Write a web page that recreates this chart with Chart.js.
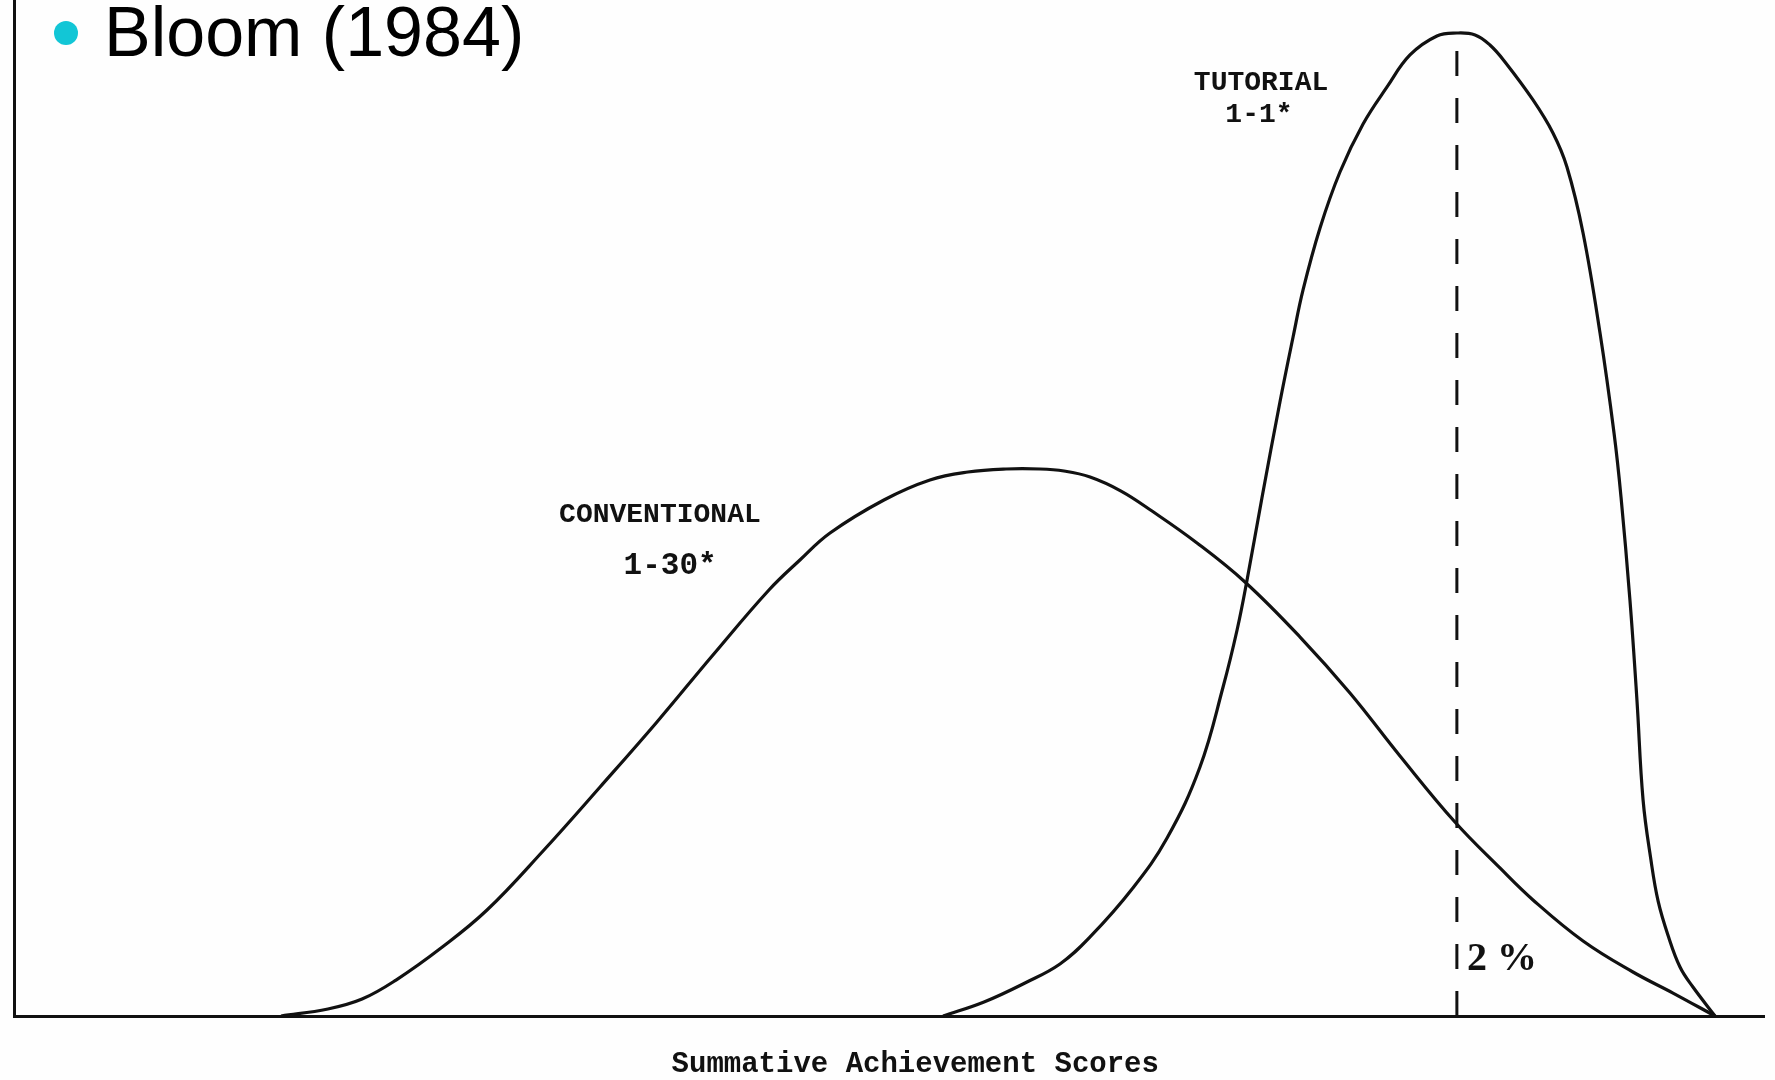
<!DOCTYPE html>
<html>
<head>
<meta charset="utf-8">
<script src="https://cdn.jsdelivr.net/npm/chart.js@4/dist/chart.umd.min.js"></script>
<style>
  html, body { margin: 0; padding: 0; background: #fefefe; }
  #wrap { position: relative; width: 1775px; height: 1080px; }
  canvas { display: block; }
</style>
</head>
<body>
<div id="wrap"><canvas id="c" width="1775" height="1080"></canvas></div>
<script>
// ---- data (x: score scale 0-100, y: relative frequency 0-100) ----
const conventionalX = [15.26, 17.94, 19.89, 21.83, 24.40, 27.03, 30.23, 33.49, 36.74, 39.94, 43.14, 44.91, 46.63, 49.71, 52.34, 54.51, 56.69, 58.63, 60.00, 61.49, 63.26, 65.03, 67.60, 70.34, 73.49, 76.34, 79.20, 82.34, 84.91, 86.80, 89.66, 92.51, 94.80, 97.20];
const conventionalY = [0.0, 0.69, 1.67, 3.54, 6.69, 10.43, 16.24, 22.54, 28.94, 35.53, 41.93, 44.88, 47.54, 50.79, 52.76, 53.54, 53.84, 53.84, 53.64, 53.05, 51.67, 49.70, 46.56, 42.72, 37.30, 31.79, 25.59, 19.09, 14.57, 11.42, 7.38, 4.33, 2.26, 0.0];

const tutorialX = [53.09, 55.43, 57.77, 59.77, 61.49, 63.89, 65.89, 67.77, 69.09, 69.89, 70.46, 71.31, 72.34, 73.09, 73.66, 74.63, 75.77, 77.09, 78.46, 79.77, 81.31, 82.45, 83.49, 84.34, 85.20, 86.80, 87.94, 88.74, 89.66, 90.63, 91.43, 91.83, 92.34, 92.74, 93.09, 93.54, 93.95, 94.51, 95.20, 95.94, 97.20];
const tutorialY = [0.0, 1.38, 3.25, 5.12, 7.78, 12.50, 17.52, 24.51, 32.38, 37.99, 42.91, 50.98, 60.43, 66.83, 71.46, 77.56, 83.07, 87.80, 91.44, 94.59, 96.46, 96.75, 96.56, 95.57, 93.90, 90.16, 86.91, 83.56, 77.07, 67.22, 57.38, 51.08, 40.94, 31.10, 21.26, 15.35, 11.30, 7.97, 4.82, 2.85, 0.0];

const cutoffX = [82.45, 82.45];
const cutoffY = [0, 96.75];

const seriesNames = ['CONVENTIONAL', 'TUTORIAL', 'Cutoff'];
const xAxisTitle = 'Summative Achievement Scores';
const heading = 'Bloom (1984)';

// annotation labels anchored to data coordinates
const labelTexts = ['TUTORIAL', '1-1*', 'CONVENTIONAL', '1-30*', '2 %'];
const labelX = [71.26, 71.14, 36.91, 37.49, 85.03];
const labelY = [91.83, 88.68, 49.31, 44.29, 5.51];

function pts(xs, ys) { return xs.map((x, i) => ({ x: x, y: ys[i] })); }

const labelPlugin = {
  id: 'labels',
  afterDraw(chart) {
    const ctx = chart.ctx;
    const xs = chart.scales.x, ys = chart.scales.y;
    ctx.save();
    ctx.fillStyle = '#111';
    ctx.textAlign = 'center';
    ctx.textBaseline = 'middle';
    labelTexts.forEach((t, i) => {
      if (t === '2 %') ctx.font = 'bold 40px "Liberation Serif", "Times New Roman", serif';
      else if (t === '1-30*') ctx.font = 'bold 31px "Liberation Mono", "Courier New", monospace';
      else ctx.font = 'bold 28px "Liberation Mono", "Courier New", monospace';
      ctx.fillText(t, xs.getPixelForValue(labelX[i]), ys.getPixelForValue(labelY[i]));
    });
    // axis title under the x axis
    ctx.font = 'bold 29px "Liberation Mono", "Courier New", monospace';
    ctx.fillText(xAxisTitle, xs.getPixelForValue(51.5), chart.chartArea.bottom + 49);
    // slide heading with bullet
    ctx.fillStyle = '#12c6d6';
    ctx.beginPath();
    ctx.arc(66, 33, 12, 0, Math.PI * 2);
    ctx.fill();
    ctx.fillStyle = '#000';
    ctx.textAlign = 'left';
    ctx.textBaseline = 'alphabetic';
    ctx.font = '70px "Liberation Sans", Arial, sans-serif';
    ctx.fillText(heading, 104, 56);
    ctx.restore();
  }
};

const lineStyle = { borderColor: '#111', borderWidth: 3.2, pointRadius: 0, fill: false, tension: 0.4, clip: false };

new Chart(document.getElementById('c'), {
  type: 'line',
  data: {
    datasets: [
      Object.assign({ label: seriesNames[0], data: pts(conventionalX, conventionalY) }, lineStyle),
      Object.assign({ label: seriesNames[1], data: pts(tutorialX, tutorialY) }, lineStyle),
      { label: seriesNames[2], data: pts(cutoffX, cutoffY), borderColor: '#111', borderWidth: 3, borderDash: [25, 22], pointRadius: 0, fill: false, clip: false }
    ]
  },
  options: {
    responsive: false,
    animation: false,
    events: [],
    layout: { padding: { left: 14, right: 11, top: 0, bottom: 0 } },
    plugins: { legend: { display: false }, tooltip: { enabled: false }, title: { display: false } },
    scales: {
      x: {
        type: 'linear', min: 0, max: 100,
        grid: { display: false, drawTicks: false },
        ticks: { display: false },
        border: { display: true, color: '#111', width: 3 },
        afterFit(s) { s.height = 64; }
      },
      y: {
        type: 'linear', min: 0, max: 100,
        grid: { display: false, drawTicks: false },
        ticks: { display: false },
        border: { display: true, color: '#111', width: 3 },
        afterFit(s) { s.width = 0; }
      }
    }
  },
  plugins: [labelPlugin]
});
</script>
</body>
</html>
